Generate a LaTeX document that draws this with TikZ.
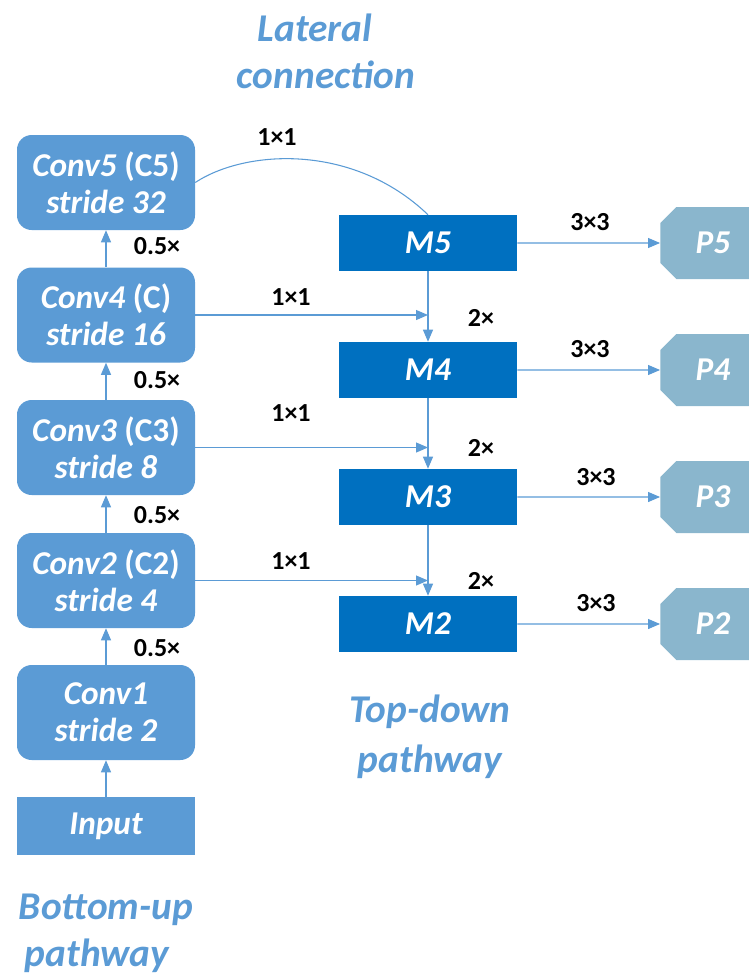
\documentclass[tikz,border=0pt]{standalone}
\usepackage{fontspec}
\setmainfont{Carlito}
\usetikzlibrary{arrows.meta,shapes.misc,calc}
\definecolor{convc}{HTML}{5B9BD5}
\definecolor{mc}{HTML}{0070C0}
\definecolor{pc}{HTML}{8AB6CD}
\definecolor{linec}{HTML}{5B9BD5}
\begin{document}
\begin{tikzpicture}[x=0.75pt,y=-0.75pt,
  convbox/.style={fill=convc,text=white,rounded corners=11pt,minimum width=133.5pt,minimum height=71.25pt,inner sep=0pt,align=center,font=\fontsize{25}{27.5}\selectfont\bfseries},
  inbox/.style={fill=convc,text=white,minimum width=133.5pt,minimum height=43.5pt,inner sep=0pt,font=\fontsize{25}{27}\selectfont\bfseries\itshape},
  mbox/.style={fill=mc,text=white,minimum width=133.5pt,minimum height=42pt,inner sep=0pt,font=\fontsize{25}{27}\selectfont\bfseries\itshape},
  pbox/.style={fill=pc,text=white,chamfered rectangle,chamfered rectangle xsep=6pt,chamfered rectangle ysep=6pt,minimum width=79pt,minimum height=54pt,inner sep=0pt,font=\fontsize{25}{27}\selectfont\bfseries\itshape},
  lbl/.style={font=\fontsize{19.5}{22}\selectfont\bfseries,text=black,inner sep=0pt},
  ttl/.style={font=\fontsize{29.5}{34}\selectfont\bfseries\itshape,text=convc,inner sep=0pt},
  arr/.style={draw=linec,line width=0.8pt,-{Triangle[length=9pt,width=7.5pt]}},
  ln/.style={draw=linec,line width=0.8pt}
]
\useasboundingbox (0,0) rectangle (749,976);
% bottom-up
\node[convbox] (c5) at (106,182.5) {\textit{Conv5} (C5)\\\textit{stride 32}};
\node[convbox] (c4) at (106,315) {\textit{Conv4} (C)\\\textit{stride 16}};
\node[convbox] (c3) at (106,447.5) {\textit{Conv3} (C3)\\\textit{stride 8}};
\node[convbox] (c2) at (106,580.5) {\textit{Conv2} (C2)\\\textit{stride 4}};
\node[convbox] (c1) at (106,712.5) {\textit{Conv1}\\\textit{stride 2}};
\node[inbox] (in) at (106,826) {Input};
% top-down
\node[mbox] (m5) at (428,243) {M5};
\node[mbox] (m4) at (428,370) {M4};
\node[mbox] (m3) at (428,497) {M3};
\node[mbox] (m2) at (428,624) {M2};
% outputs
\node[pbox] (p5) at (713,243) {P5};
\node[pbox] (p4) at (713,370) {P4};
\node[pbox] (p3) at (713,497) {P3};
\node[pbox] (p2) at (713,624) {P2};
% bottom-up arrows
\draw[arr] (in) -- (c1);
\draw[arr] (c1) -- (c2);
\draw[arr] (c2) -- (c3);
\draw[arr] (c3) -- (c4);
\draw[arr] (c4) -- (c5);
% top-down arrows
\draw[arr] (m5) -- (m4);
\draw[arr] (m4) -- (m3);
\draw[arr] (m3) -- (m2);
% lateral
\draw[ln] (c5.east) .. controls ($(c5.east)+(50,-33)$) and ($(m5.north)+(-75,-72)$) .. (m5.north);
\draw[arr] (c4.east) -- (c4.east -| m4.north);
\draw[arr] (c3.east) -- (c3.east -| m3.north);
\draw[arr] (c2.east) -- (c2.east -| m2.north);
% outputs
\draw[arr] (m5) -- (p5);
\draw[arr] (m4) -- (p4);
\draw[arr] (m3) -- (p3);
\draw[arr] (m2) -- (p2);
% labels
\node[lbl] (l11a) at (277,137) {1×1};
\node[lbl] (l11b) at (291,297) {1×1};
\node[lbl] (l11c) at (291,413) {1×1};
\node[lbl] (l11d) at (291,561) {1×1};
\node[lbl] (h5) at (157,246) {0.5×};
\node[lbl] (h4) at (157,380) {0.5×};
\node[lbl] (h3) at (157,515) {0.5×};
\node[lbl] (h2) at (157,648) {0.5×};
\node[lbl] (d4) at (481,318) {2×};
\node[lbl] (d3) at (481,448) {2×};
\node[lbl] (d2) at (481,581) {2×};
\node[lbl] (k5) at (590,222) {3×3};
\node[lbl] (k4) at (590,349) {3×3};
\node[lbl] (k3) at (596,477) {3×3};
\node[lbl] (k2) at (596,603) {3×3};
% titles
\node[ttl] (t1) at (315,28) {Lateral};
\node[ttl] (t2) at (326,75) {connection};
\node[ttl] (t3) at (430,712) {Top-down};
\node[ttl] (t4) at (430,762) {pathway};
\node[ttl] (t5) at (106,910) {Bottom-up};
\node[ttl] (t6) at (97,956) {pathway};
\end{tikzpicture}
\end{document}
